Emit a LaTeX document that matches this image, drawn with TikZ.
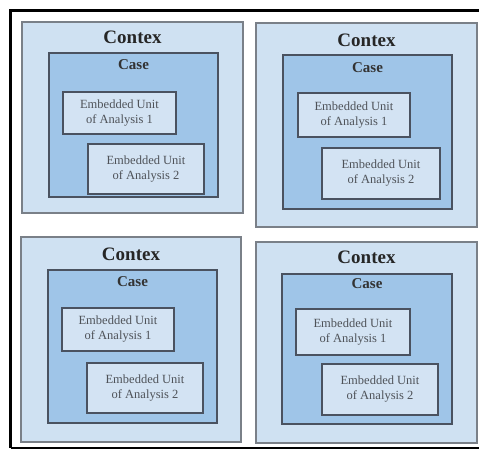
\documentclass[tikz,border=0pt]{standalone}
\usepackage{fontspec}
\setmainfont{Liberation Serif}
\definecolor{ctxfill}{HTML}{CFE1F2}
\definecolor{casefill}{HTML}{9FC5E8}
\definecolor{unitfill}{HTML}{D3E3F3}
\definecolor{ctxline}{HTML}{7A8088}
\definecolor{caseline}{HTML}{4A5260}
\definecolor{unittext}{HTML}{4E5258}
\tikzset{
  ctx/.style={draw=ctxline, line width=1.2pt, fill=ctxfill, rectangle, inner sep=0pt},
  casebox/.style={draw=caseline, line width=1.4pt, fill=casefill, rectangle, inner sep=0pt},
  unitbox/.style={draw=caseline, line width=1.4pt, fill=unitfill, rectangle, inner sep=0pt,
    align=center, font=\fontsize{12.5}{15}\selectfont, text=unittext},
  ctxtitle/.style={font=\fontsize{19}{19}\selectfont\bfseries, text=black!85, inner sep=0pt},
  casetitle/.style={font=\fontsize{15}{15}\selectfont\bfseries, text=black!80, inner sep=0pt},
  frameline/.style={draw=black, line cap=butt}
}
\begin{document}
\begin{tikzpicture}[x=1pt,y=-1pt]
\useasboundingbox (0,0) rectangle (479,450);
\fill[white] (0,0) rectangle (479,450);
% frame
\coordinate (ftl) at (10.5,10.5);
\coordinate (ftr) at (479,10.5);
\coordinate (fbl) at (10.5,448);
\coordinate (fbr) at (479,448);
\draw[frameline, line width=3.5pt] (ftr) -- (ftl) -- (fbl);
\draw[frameline, line width=2pt] (fbl) -- (fbr);

% box 1
\node[ctx, minimum width=221, minimum height=191] (c1) at (132.5,117.5) {};
\node[casebox, minimum width=169, minimum height=144] (k1) at (133.5,125) {};
\node[unitbox, minimum width=113, minimum height=42] (u11) at (119.5,113) {Embedded Unit\\of Analysis 1};
\node[unitbox, minimum width=116, minimum height=50] (u12) at (146,169) {Embedded Unit\\of Analysis 2};
\node[ctxtitle] (t1) at (132.5,37) {Contex};
\node[casetitle] (s1) at (133.5,65) {Case};

% box 2
\node[ctx, minimum width=221, minimum height=204] (c2) at (366.5,125) {};
\node[casebox, minimum width=169, minimum height=154] (k2) at (367.5,132) {};
\node[unitbox, minimum width=112, minimum height=44] (u21) at (354,115) {Embedded Unit\\of Analysis 1};
\node[unitbox, minimum width=118, minimum height=51] (u22) at (381,173.5) {Embedded Unit\\of Analysis 2};
\node[ctxtitle] (t2) at (366.5,40) {Contex};
\node[casetitle] (s2) at (367.5,68) {Case};

% box 3
\node[ctx, minimum width=220, minimum height=205] (c3) at (131,339.5) {};
\node[casebox, minimum width=169, minimum height=153] (k3) at (132.5,346.5) {};
\node[unitbox, minimum width=112, minimum height=43] (u31) at (118,329.5) {Embedded Unit\\of Analysis 1};
\node[unitbox, minimum width=116, minimum height=50] (u32) at (145,388) {Embedded Unit\\of Analysis 2};
\node[ctxtitle] (t3) at (131,254) {Contex};
\node[casetitle] (s3) at (132.5,282) {Case};

% box 4
\node[ctx, minimum width=221, minimum height=201] (c4) at (366.5,342.5) {};
\node[casebox, minimum width=170, minimum height=150] (k4) at (367,349) {};
\node[unitbox, minimum width=114, minimum height=46] (u41) at (353,332) {Embedded Unit\\of Analysis 1};
\node[unitbox, minimum width=116, minimum height=51] (u42) at (380,389.5) {Embedded Unit\\of Analysis 2};
\node[ctxtitle] (t4) at (366.5,257) {Contex};
\node[casetitle] (s4) at (367,284) {Case};
\end{tikzpicture}
\end{document}
